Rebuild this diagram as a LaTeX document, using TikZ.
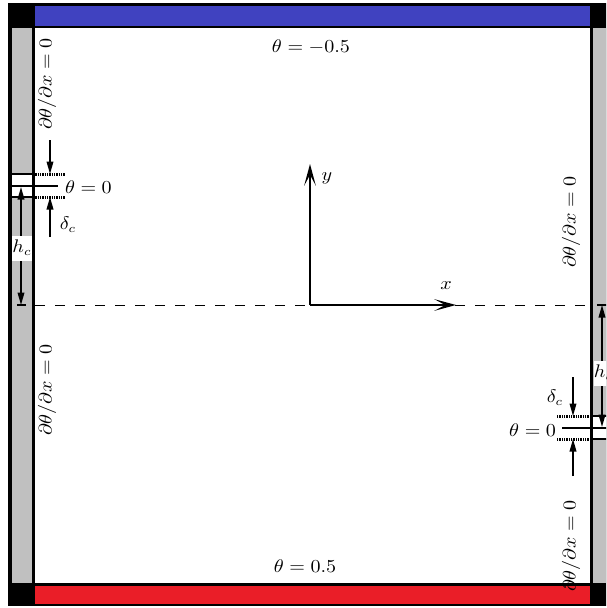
\documentclass[tikz,border=0pt]{standalone}
\usetikzlibrary{arrows.meta}
\definecolor{topblue}{RGB}{64,66,192}
\definecolor{botred}{RGB}{234,30,40}
\definecolor{wallgray}{RGB}{192,192,192}
\newcommand{\wide}[1]{\scalebox{1.1}[1]{#1}}
\tikzset{
  lbl/.style={font=\fontsize{10.5}{12.5}\selectfont, inner sep=1pt},
  rlbl/.style={lbl, rotate=90},
  solidline/.style={line width=1.2pt},
  dotline/.style={line width=1.8pt, dash pattern=on 0.8pt off 0.6pt},
  centerline/.style={line width=0.6pt, dash pattern=on 6pt off 6pt},
  axis/.style={line width=1.2pt, -{Stealth[length=13pt,width=7pt,inset=6.5pt]}},
  dimarrow/.style={line width=0.9pt, -{Triangle[length=7.5pt,width=4pt]}},
  dimboth/.style={line width=0.9pt, {Triangle[length=7.5pt,width=4pt]}-{Triangle[length=7.5pt,width=4pt]}},
  hbox/.style={lbl, fill=white, minimum width=12pt, minimum height=15pt, inner sep=0pt}
}
\begin{document}
\begin{tikzpicture}[x=0.6pt,y=-0.6pt]
\useasboundingbox (0,0) rectangle (606,608);
\clip (0,0) rectangle (606,608);
% frame
\fill[black] (8,3) rectangle (622,606);
\fill[topblue] (35,6) rectangle (590,26);
\fill[botred] (35,586) rectangle (590,604);
\fill[wallgray] (12,28) rectangle (32,583);
\fill[wallgray] (593,28) rectangle (614,583);
\fill[white] (35,28) rectangle (590,583);
% slots
\fill[white] (12,174) rectangle (32,197);
\fill[white] (593,416) rectangle (614,439);
% coordinates
\coordinate (LsT0) at (9,174);  \coordinate (LsT1) at (33,174); \coordinate (LsT2) at (65,174);
\coordinate (LsB0) at (9,197);  \coordinate (LsB1) at (33,197); \coordinate (LsB2) at (65,197);
\coordinate (LsC0) at (9,186);  \coordinate (LsC1) at (58,186);
\coordinate (RsT0) at (620,416); \coordinate (RsT1) at (591,416); \coordinate (RsT2) at (557,416);
\coordinate (RsB0) at (620,439); \coordinate (RsB1) at (591,439); \coordinate (RsB2) at (557,439);
\coordinate (RsC0) at (620,428); \coordinate (RsC1) at (562,428);
\draw[solidline] (LsT0) -- (LsT1);
\draw[solidline] (LsB0) -- (LsB1);
\draw[solidline] (LsC0) -- (LsC1);
\draw[dotline] (LsT1) -- (LsT2);
\draw[dotline] (LsB1) -- (LsB2);
\draw[solidline] (RsT0) -- (RsT1);
\draw[solidline] (RsB0) -- (RsB1);
\draw[solidline] (RsC0) -- (RsC1);
\draw[dotline] (RsT1) -- (RsT2);
\draw[dotline] (RsB1) -- (RsB2);
% centre line
\coordinate (CL0) at (35,305); \coordinate (CL1) at (590,305);
\draw[centerline] (CL0) -- (CL1);
\coordinate (tkL0) at (17,305); \coordinate (tkL1) at (26,305);
\coordinate (tkR0) at (597,305); \coordinate (tkR1) at (609,305);
\draw[line width=0.8pt] (tkL0) -- (tkL1);
\draw[line width=0.8pt] (tkR0) -- (tkR1);
% axes
\coordinate (O) at (310,305);
\coordinate (Yend) at (310,164);
\coordinate (Xend) at (456,305);
\draw[axis] (O) -- (Yend);
\draw[axis] (O) -- (Xend);
\node[lbl] (ylab) at (327,178) {\wide{$y$}};
\node[lbl] (xlab) at (446,286) {\wide{$x$}};
% delta_c arrows left
\coordinate (dLa) at (50,140);
\coordinate (dLb) at (50,237);
\draw[dimarrow] (dLa) -- (LsT1 -| dLa);
\draw[dimarrow] (dLb) -- (LsB1 -| dLb);
\node[lbl] (dcL) at (68,225) {\wide{$\delta_c$}};
% delta_c arrows right
\coordinate (dRa) at (573,377);
\coordinate (dRb) at (573,476);
\draw[dimarrow] (dRa) -- (RsT1 -| dRa);
\draw[dimarrow] (dRb) -- (RsB1 -| dRb);
\node[lbl] (dcR) at (555,398) {\wide{$\delta_c$}};
% h_c arrows
\coordinate (hL0) at (21,305); \coordinate (hL1) at (21,187);
\draw[dimboth] (hL0) -- (hL1);
\node[hbox] (hcL) at (22,248) {\wide{$h_c$}};
\coordinate (hR0) at (602,305); \coordinate (hR1) at (602,427);
\draw[dimboth] (hR0) -- (hR1);
\node[hbox] (hcR) at (603.5,373) {\wide{$h_c$}};
% theta=0 labels
\node[lbl, anchor=west] (t0L) at (63,187) {\wide{$\theta=0$}};
\node[lbl, anchor=east] (t0R) at (558,430) {\wide{$\theta=0$}};
% boundary labels
\node[lbl] (top) at (311,47) {\wide{$\theta=-0.5$}};
\node[lbl] (bot) at (305,566) {\wide{$\theta=0.5$}};
\node[rlbl] (nLu) at (47,84) {\wide{$\partial\theta/\partial x=0$}};
\node[rlbl] (nLl) at (47,390) {\wide{$\partial\theta/\partial x=0$}};
\node[rlbl] (nRu) at (571,222) {\wide{$\partial\theta/\partial x=0$}};
\node[rlbl] (nRl) at (571,546) {\wide{$\partial\theta/\partial x=0$}};
\end{tikzpicture}
\end{document}
